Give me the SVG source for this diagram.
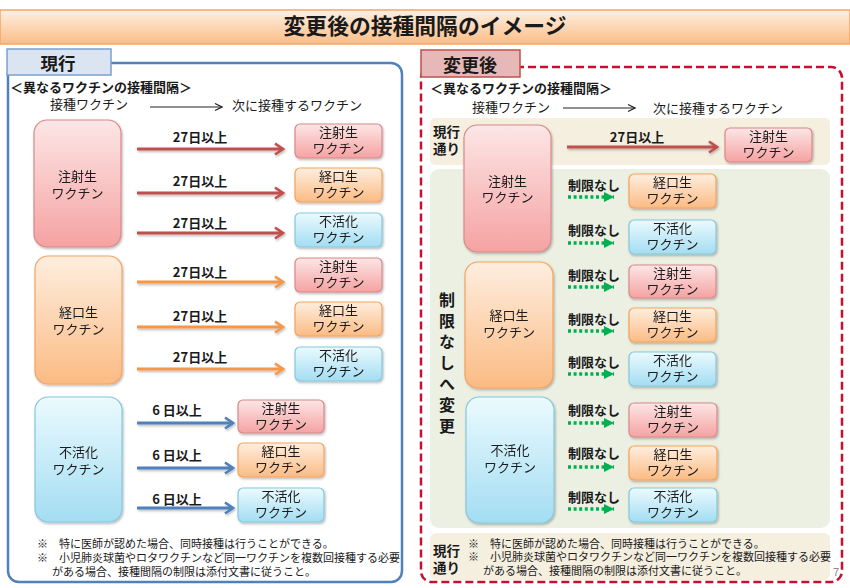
<svg xmlns="http://www.w3.org/2000/svg" width="850" height="588" viewBox="0 0 850 588">
<style>
text{font-family:"Noto Sans CJK JP","Noto Sans",sans-serif;fill:#1a1a1a}
.t{font-size:13px;text-anchor:middle}
.lab{font-size:13px;font-weight:bold;text-anchor:middle}
.fn{font-size:11px}
.pk{fill:url(#gPink);stroke:#d88a89;stroke-width:1.2}
.or{fill:url(#gOr);stroke:#f5a35e;stroke-width:1.2}
.bl{fill:url(#gBl);stroke:#86c7dd;stroke-width:1.2}
.ar{fill:none;stroke-width:3}
.red{stroke:#c0504d}
.ora{stroke:#f79646}
.blu{stroke:#4f81bd}
.grn{stroke:#00b050;stroke-width:3.5;stroke-dasharray:3 2.6;fill:none}
</style>
<defs>
<linearGradient id="gTitle" x1="0" y1="0" x2="0" y2="1"><stop offset="0" stop-color="#fef0e4"/><stop offset="1" stop-color="#fbbd86"/></linearGradient>
<linearGradient id="gPink" x1="0" y1="0" x2="0" y2="1"><stop offset="0" stop-color="#fde6e6"/><stop offset="1" stop-color="#f5a2a2"/></linearGradient>
<linearGradient id="gOr" x1="0" y1="0" x2="0" y2="1"><stop offset="0" stop-color="#feeedf"/><stop offset="1" stop-color="#fbbb84"/></linearGradient>
<linearGradient id="gBl" x1="0" y1="0" x2="0" y2="1"><stop offset="0" stop-color="#ebfafe"/><stop offset="1" stop-color="#a3ddf2"/></linearGradient>
<filter id="sh" x="-10%" y="-10%" width="130%" height="140%"><feDropShadow dx="1" dy="1.5" stdDeviation="1.2" flood-color="#000" flood-opacity="0.28"/></filter>
<marker id="mR" markerUnits="userSpaceOnUse" markerWidth="12" markerHeight="14" viewBox="0 0 12 14" refX="10" refY="7" orient="auto"><path d="M2,1.5 L10,7 L2,12.5" fill="none" stroke="#c0504d" stroke-width="2.6"/></marker>
<marker id="mO" markerUnits="userSpaceOnUse" markerWidth="12" markerHeight="14" viewBox="0 0 12 14" refX="10" refY="7" orient="auto"><path d="M2,1.5 L10,7 L2,12.5" fill="none" stroke="#f79646" stroke-width="2.6"/></marker>
<marker id="mB" markerUnits="userSpaceOnUse" markerWidth="12" markerHeight="14" viewBox="0 0 12 14" refX="10" refY="7" orient="auto"><path d="M2,1.5 L10,7 L2,12.5" fill="none" stroke="#4f81bd" stroke-width="2.6"/></marker>
<marker id="mK" markerUnits="userSpaceOnUse" markerWidth="10" markerHeight="10" viewBox="0 0 10 10" refX="9" refY="5" orient="auto"><path d="M2,1.5 L9,5 L2,8.5" fill="none" stroke="#222" stroke-width="1.2"/></marker>
<marker id="mG" markerUnits="userSpaceOnUse" markerWidth="12" markerHeight="12" viewBox="0 0 12 12" refX="11" refY="6" orient="auto"><path d="M1,1 L11,6 L1,11 Z" fill="#00b050"/></marker>
</defs>

<!-- title -->
<g id="title">
<rect x="0" y="10" width="850" height="34" fill="url(#gTitle)" stroke="#f7a564" stroke-width="1.5"/>
<text x="425" y="34" font-size="21.8" font-weight="bold" text-anchor="middle">変更後の接種間隔のイメージ</text>
</g>

<!-- left panel -->
<g id="panel-current">
<rect x="8" y="63" width="394" height="519" rx="11" fill="#fff" stroke="#4f81bd" stroke-width="2.5"/>
<rect x="7" y="49" width="104" height="26" fill="#dbe5f1" stroke="#7ba0cd" stroke-width="1.5"/>
<text x="58" y="70" font-size="17.5" font-weight="bold" text-anchor="middle">現行</text>
<text x="10" y="92" font-size="13" font-weight="bold">＜異なるワクチンの接種間隔＞</text>
<text x="50" y="109" font-size="13">接種ワクチン</text>
<text x="232" y="110" font-size="13">次に接種するワクチン</text>
<text class="fn"><tspan x="37" y="548">※　特に医師が認めた場合、同時接種は行うことができる。</tspan><tspan x="37" y="562">※　小児肺炎球菌やロタワクチンなど同一ワクチンを複数回接種する必要</tspan><tspan x="52" y="576">がある場合、接種間隔の制限は添付文書に従うこと。</tspan></text>
</g>

<!-- right panel -->
<g id="panel-changed">
<rect x="421" y="67" width="421" height="515" rx="11" fill="#fff" stroke="#c8102e" stroke-width="2.5" stroke-dasharray="8 4"/>
<rect x="421" y="50" width="99" height="27" fill="#e6b9b8" stroke="#c0504d" stroke-width="1.5"/>
<text x="470" y="72" font-size="18" font-weight="bold" text-anchor="middle">変更後</text>
<text x="430" y="93" font-size="13" font-weight="bold">＜異なるワクチンの接種間隔＞</text>
<text x="472" y="112" font-size="13">接種ワクチン</text>
<text x="653" y="113" font-size="13">次に接種するワクチン</text>
<rect x="430" y="118" width="400" height="47" rx="5" fill="#f5efe0"/>
<rect x="430" y="169" width="400" height="359" rx="9" fill="#ebf0e3"/>
<rect x="430" y="533" width="400" height="47" rx="6" fill="#f5efe0"/>
<text font-size="13.5" font-weight="bold"><tspan x="433" y="137">現行</tspan><tspan x="433" y="154">通り</tspan></text>
<text font-size="13.5" font-weight="bold"><tspan x="433" y="556">現行</tspan><tspan x="433" y="573">通り</tspan></text>
<text x="447" y="292" font-size="16" font-weight="bold" writing-mode="vertical-rl" letter-spacing="5">制限なしへ変更</text>
<text class="fn"><tspan x="468" y="548">※　特に医師が認めた場合、同時接種は行うことができる。</tspan><tspan x="468" y="561">※　小児肺炎球菌やロタワクチンなど同一ワクチンを複数回接種する必要</tspan><tspan x="483" y="575">がある場合、接種間隔の制限は添付文書に従うこと。</tspan></text>
<text x="833" y="576" font-size="11" style="fill:#8c8c8c">7</text>
</g>

<!-- connectors -->
<g id="connectors">
<line x1="150" y1="107" x2="222" y2="107" stroke="#222" stroke-width="1.2" marker-end="url(#mK)"/>
<line x1="563" y1="108" x2="635" y2="108" stroke="#222" stroke-width="1.2" marker-end="url(#mK)"/>
<g filter="url(#sh)">
<line class="ar red" x1="137" y1="149" x2="283" y2="149" marker-end="url(#mR)"/>
<line class="ar red" x1="137" y1="193" x2="283" y2="193" marker-end="url(#mR)"/>
<line class="ar red" x1="137" y1="233" x2="283" y2="233" marker-end="url(#mR)"/>
<line class="ar ora" x1="137" y1="282" x2="283" y2="282" marker-end="url(#mO)"/>
<line class="ar ora" x1="137" y1="327" x2="283" y2="327" marker-end="url(#mO)"/>
<line class="ar ora" x1="137" y1="369" x2="283" y2="369" marker-end="url(#mO)"/>
<line class="ar blu" x1="137" y1="423" x2="233" y2="423" marker-end="url(#mB)"/>
<line class="ar blu" x1="137" y1="468" x2="233" y2="468" marker-end="url(#mB)"/>
<line class="ar blu" x1="137" y1="508" x2="233" y2="508" marker-end="url(#mB)"/>
<line class="ar red" x1="567" y1="147" x2="717" y2="147" marker-end="url(#mR)"/>
</g>
<line class="grn" x1="568" y1="197" x2="614" y2="197" marker-end="url(#mG)"/>
<line class="grn" x1="568" y1="243" x2="614" y2="243" marker-end="url(#mG)"/>
<line class="grn" x1="568" y1="287" x2="614" y2="287" marker-end="url(#mG)"/>
<line class="grn" x1="568" y1="331" x2="614" y2="331" marker-end="url(#mG)"/>
<line class="grn" x1="568" y1="374" x2="614" y2="374" marker-end="url(#mG)"/>
<line class="grn" x1="568" y1="423" x2="614" y2="423" marker-end="url(#mG)"/>
<line class="grn" x1="568" y1="467" x2="614" y2="467" marker-end="url(#mG)"/>
<line class="grn" x1="568" y1="509" x2="614" y2="509" marker-end="url(#mG)"/>
<text class="lab" x="200" y="142">27日以上</text>
<text class="lab" x="200" y="186">27日以上</text>
<text class="lab" x="200" y="228">27日以上</text>
<text class="lab" x="200" y="277">27日以上</text>
<text class="lab" x="200" y="321">27日以上</text>
<text class="lab" x="200" y="362">27日以上</text>
<text class="lab" x="177" y="415">6 日以上</text>
<text class="lab" x="177" y="460">6 日以上</text>
<text class="lab" x="177" y="504">6 日以上</text>
<text class="lab" x="637" y="142">27日以上</text>
<text class="lab" x="594" y="190">制限なし</text>
<text class="lab" x="594" y="235">制限なし</text>
<text class="lab" x="594" y="280">制限なし</text>
<text class="lab" x="594" y="324">制限なし</text>
<text class="lab" x="594" y="367">制限なし</text>
<text class="lab" x="594" y="415">制限なし</text>
<text class="lab" x="594" y="458">制限なし</text>
<text class="lab" x="594" y="502">制限なし</text>
</g>

<!-- left nodes -->
<g id="L-inj" filter="url(#sh)"><rect class="pk" x="34" y="120" width="87" height="127" rx="13"/><text class="t"><tspan x="77.5" y="181">注射生</tspan><tspan x="77.5" y="198">ワクチン</tspan></text></g>
<g id="L-oral" filter="url(#sh)"><rect class="or" x="35" y="256" width="87" height="128" rx="13"/><text class="t"><tspan x="78.5" y="317">経口生</tspan><tspan x="78.5" y="334">ワクチン</tspan></text></g>
<g id="L-inact" filter="url(#sh)"><rect class="bl" x="35" y="397" width="87" height="125" rx="13"/><text class="t"><tspan x="78.5" y="457">不活化</tspan><tspan x="78.5" y="474">ワクチン</tspan></text></g>

<g id="L1-inj" filter="url(#sh)"><rect class="pk" x="295" y="124" width="87" height="34" rx="5"/><text class="t"><tspan x="338.5" y="137">注射生</tspan><tspan x="338.5" y="153">ワクチン</tspan></text></g>
<g id="L1-oral" filter="url(#sh)"><rect class="or" x="295" y="168" width="87" height="34" rx="5"/><text class="t"><tspan x="338.5" y="181">経口生</tspan><tspan x="338.5" y="197">ワクチン</tspan></text></g>
<g id="L1-inact" filter="url(#sh)"><rect class="bl" x="295" y="213" width="87" height="34" rx="5"/><text class="t"><tspan x="338.5" y="226">不活化</tspan><tspan x="338.5" y="242">ワクチン</tspan></text></g>

<g id="L2-inj" filter="url(#sh)"><rect class="pk" x="295" y="258" width="87" height="34" rx="5"/><text class="t"><tspan x="338.5" y="271">注射生</tspan><tspan x="338.5" y="287">ワクチン</tspan></text></g>
<g id="L2-oral" filter="url(#sh)"><rect class="or" x="295" y="302" width="87" height="34" rx="5"/><text class="t"><tspan x="338.5" y="315">経口生</tspan><tspan x="338.5" y="331">ワクチン</tspan></text></g>
<g id="L2-inact" filter="url(#sh)"><rect class="bl" x="295" y="347" width="87" height="34" rx="5"/><text class="t"><tspan x="338.5" y="360">不活化</tspan><tspan x="338.5" y="376">ワクチン</tspan></text></g>

<g id="L3-inj" filter="url(#sh)"><rect class="pk" x="238" y="400" width="86" height="33" rx="5"/><text class="t"><tspan x="281" y="413">注射生</tspan><tspan x="281" y="429">ワクチン</tspan></text></g>
<g id="L3-oral" filter="url(#sh)"><rect class="or" x="238" y="443" width="86" height="34" rx="5"/><text class="t"><tspan x="281" y="456">経口生</tspan><tspan x="281" y="472">ワクチン</tspan></text></g>
<g id="L3-inact" filter="url(#sh)"><rect class="bl" x="238" y="488" width="86" height="34" rx="5"/><text class="t"><tspan x="281" y="501">不活化</tspan><tspan x="281" y="517">ワクチン</tspan></text></g>

<!-- right nodes -->
<g id="R-inj" filter="url(#sh)"><rect class="pk" x="464" y="125" width="87" height="127" rx="13"/><text class="t"><tspan x="507.5" y="186">注射生</tspan><tspan x="507.5" y="202">ワクチン</tspan></text></g>
<g id="R-oral" filter="url(#sh)"><rect class="or" x="465" y="262" width="88" height="126" rx="13"/><text class="t"><tspan x="509" y="320">経口生</tspan><tspan x="509" y="337">ワクチン</tspan></text></g>
<g id="R-inact" filter="url(#sh)"><rect class="bl" x="466" y="397" width="88" height="126" rx="13"/><text class="t"><tspan x="510" y="455">不活化</tspan><tspan x="510" y="472">ワクチン</tspan></text></g>

<g id="R0-inj" filter="url(#sh)"><rect class="pk" x="725" y="128" width="87" height="34" rx="5"/><text class="t"><tspan x="768.5" y="141">注射生</tspan><tspan x="768.5" y="157">ワクチン</tspan></text></g>

<g id="R1-oral" filter="url(#sh)"><rect class="or" x="629" y="174" width="87" height="34" rx="5"/><text class="t"><tspan x="672.5" y="187">経口生</tspan><tspan x="672.5" y="203">ワクチン</tspan></text></g>
<g id="R1-inact" filter="url(#sh)"><rect class="bl" x="629" y="220" width="87" height="34" rx="5"/><text class="t"><tspan x="672.5" y="233">不活化</tspan><tspan x="672.5" y="249">ワクチン</tspan></text></g>

<g id="R2-inj" filter="url(#sh)"><rect class="pk" x="629" y="265" width="87" height="33" rx="5"/><text class="t"><tspan x="672.5" y="278">注射生</tspan><tspan x="672.5" y="294">ワクチン</tspan></text></g>
<g id="R2-oral" filter="url(#sh)"><rect class="or" x="629" y="308" width="87" height="34" rx="5"/><text class="t"><tspan x="672.5" y="321">経口生</tspan><tspan x="672.5" y="337">ワクチン</tspan></text></g>
<g id="R2-inact" filter="url(#sh)"><rect class="bl" x="629" y="352" width="87" height="34" rx="5"/><text class="t"><tspan x="672.5" y="365">不活化</tspan><tspan x="672.5" y="381">ワクチン</tspan></text></g>

<g id="R3-inj" filter="url(#sh)"><rect class="pk" x="629" y="403" width="88" height="34" rx="5"/><text class="t"><tspan x="673" y="416">注射生</tspan><tspan x="673" y="432">ワクチン</tspan></text></g>
<g id="R3-oral" filter="url(#sh)"><rect class="or" x="629" y="446" width="88" height="34" rx="5"/><text class="t"><tspan x="673" y="459">経口生</tspan><tspan x="673" y="475">ワクチン</tspan></text></g>
<g id="R3-inact" filter="url(#sh)"><rect class="bl" x="629" y="488" width="88" height="34" rx="5"/><text class="t"><tspan x="673" y="501">不活化</tspan><tspan x="673" y="517">ワクチン</tspan></text></g>
</svg>
